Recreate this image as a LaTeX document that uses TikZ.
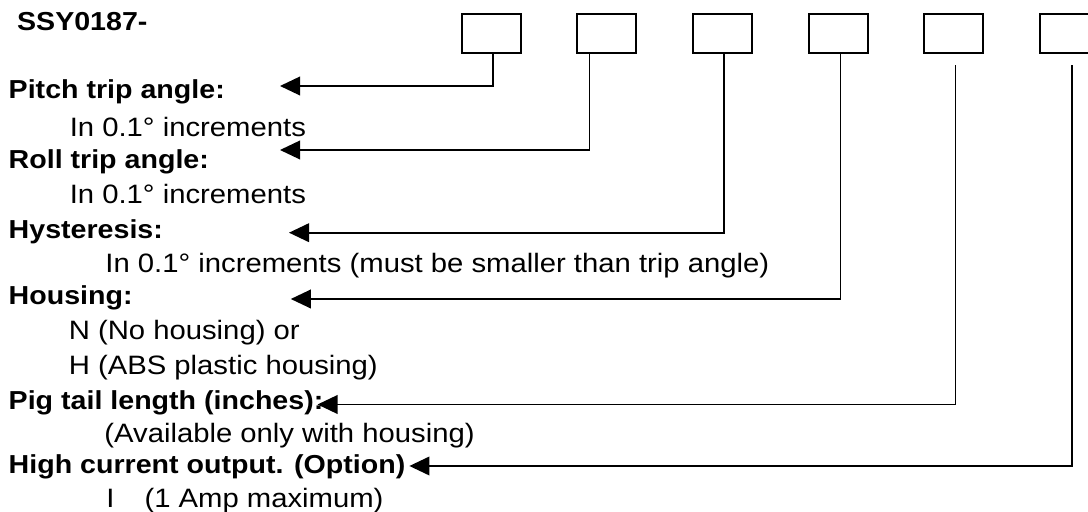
\documentclass[tikz,border=0pt]{standalone}
\usepackage{fontspec}
\setmainfont[FakeStretch=1.1]{Liberation Sans}
\usetikzlibrary{arrows.meta}

\begin{document}
\begin{tikzpicture}[
    x=0.5pt, y=-0.5pt,
    >={Triangle[length=10pt, width=9.3pt]},
    font=\fontsize{13}{15}\selectfont,
    codebox/.style={draw, line width=1pt, minimum width=29.5pt, minimum height=19.5pt, inner sep=0pt, anchor=north west},
    head/.style={anchor=base west, inner sep=0pt, font=\fontsize{13}{15}\selectfont\bfseries},
    note/.style={anchor=base west, inner sep=0pt, font=\fontsize{13.3}{15}\selectfont},
    lead/.style={->, line width=0.85pt}
]

    % Parameters
    \def\boxTop{13.3}
    \def\headX{8.3}

    % Frame of the picture
    \clip (0,0) rectangle (1088,512);
    \fill[white] (0,0) rectangle (1088,512);

    % 1. Part number and code boxes
    \node[head] (part) at (16.7, 31) {SSY0187-};
    \foreach \i/\x in {1/460.8, 2/576, 3/691.5, 4/808, 5/923, 6/1039} {
        \node[codebox] (b\i) at (\x, \boxTop) {};
    }

    % 2. Option headings and notes
    \node[head] (pitch) at (\headX, 99) {Pitch trip angle:};
    \node[note] (pitchinc) at (69.4, 136.7) {In 0.1° increments};
    \node[head] (roll) at (\headX, 168.3) {Roll trip angle:};
    \node[note] (rollinc) at (69.4, 204) {In 0.1° increments};
    \node[head] (hyst) at (\headX, 238.3) {Hysteresis:};
    \node[note] (hystinc) at (105, 272.7) {In 0.1° increments (must be smaller than trip angle)};
    \node[head] (housing) at (\headX, 304.3) {Housing:};
    \node[note] (nohouse) at (68.4, 339.3) {N (No housing) or};
    \node[note] (abshouse) at (68.4, 374.3) {H (ABS plastic housing)};
    \node[head] (pigtail) at (\headX, 409.3) {Pig tail length (inches):};
    \node[note] (pigonly) at (104, 442.7) {(Available only with housing)};
    \node[head] (current) at (\headX, 473.3) {High current output. (Option)};
    \node[note] (amp) at (106, 507.5) {I\hspace{15pt}(1 Amp maximum)};

    % 3. Arrow ends
    \coordinate (t1) at (280, 86);
    \coordinate (t2) at (280, 150);
    \coordinate (t3) at (289, 232.7);
    \coordinate (t4) at (290.8, 299);
    \coordinate (t5) at (317.5, 404.5);
    \coordinate (t6) at (409.4, 466);

    % 4. Leaders from the boxes
    \draw[lead] ([xshift=0.7pt]b1.south) |- (t1);
    \draw[lead] ([xshift=-8.5pt]b2.south) |- (t2);
    \draw[lead] ([xshift=1pt]b3.south) |- (t3);
    \draw[lead] ([xshift=1pt]b4.south) |- (t4);
    \draw[lead, shorten <=5.5pt] ([xshift=1pt]b5.south) |- (t5);
    \draw[lead, shorten <=5.5pt] ([xshift=1.2pt]b6.south) |- (t6);

\end{tikzpicture}
\end{document}
